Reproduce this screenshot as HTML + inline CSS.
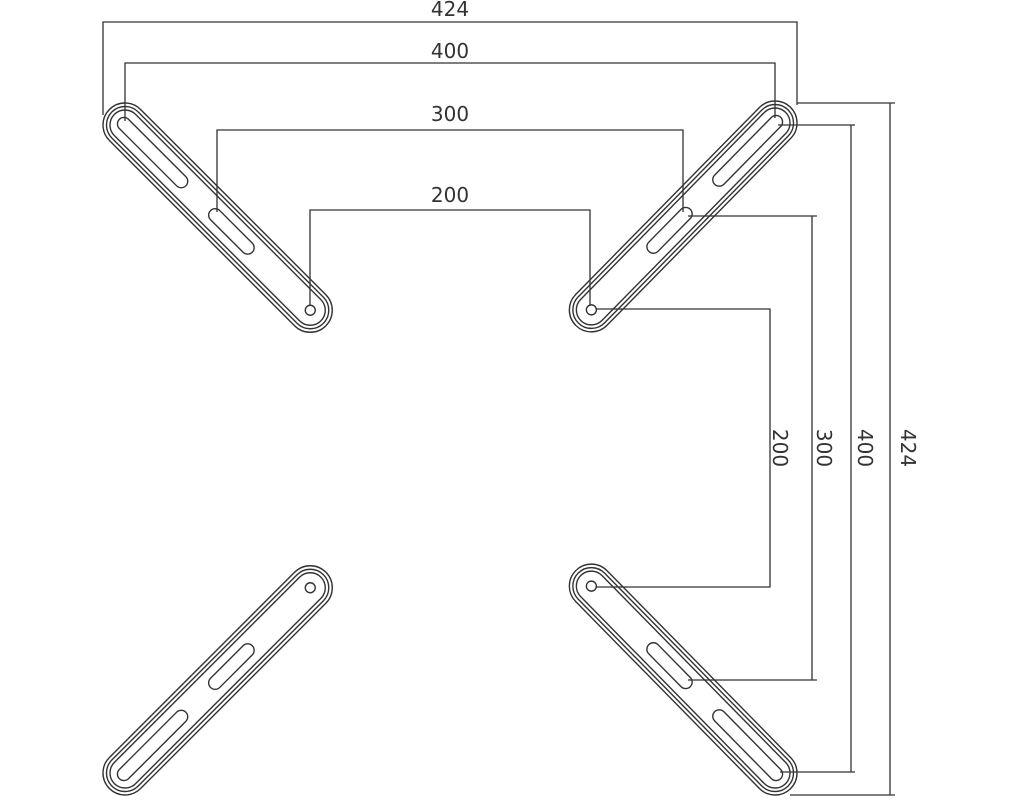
<!DOCTYPE html>
<html><head><meta charset="utf-8"><style>
html,body{margin:0;padding:0;background:#fff;}
svg{display:block}
text{font-family:"DejaVu Sans","Liberation Sans",sans-serif;font-size:20px;fill:#333;}
</style></head><body>
<svg width="1024" height="800" viewBox="0 0 1024 800" xmlns="http://www.w3.org/2000/svg">
<defs>
<g id="arm" fill="none" stroke="#333" stroke-width="1.4">
  <rect x="-22" y="-22" width="306" height="44" rx="22"/>
  <rect x="-18.5" y="-18.5" width="299" height="37" rx="18.5"/>
  <rect x="-15" y="-15" width="292" height="30" rx="15"/>
  <rect x="-8" y="-6.5" width="94" height="13" rx="6.5"/>
  <rect x="121" y="-6.5" width="59" height="13" rx="6.5"/>
  <circle cx="262" cy="0" r="5"/>
</g>
</defs>
<use href="#arm" transform="translate(125,125) rotate(45)"/>
<use href="#arm" transform="translate(775,123) rotate(134.5)"/>
<use href="#arm" transform="translate(125,773) rotate(-45)"/>
<use href="#arm" transform="translate(775,773) rotate(-134.5)"/>
<g fill="none" stroke="#333" stroke-width="1.3">
  <polyline points="103,115 103,22 797,22 797,105"/>
  <polyline points="125,121 125,63 775,63 775,118"/>
  <polyline points="217,212 217,130 683,130 683,212"/>
  <polyline points="310,305 310,210 590,210 590,305"/>
  <polyline points="797,103 895,103"/>
  <polyline points="790,795 895,795"/>
  <line x1="890" y1="103" x2="890" y2="795"/>
  <polyline points="778,125 855,125"/>
  <polyline points="780,772 855,772"/>
  <line x1="851" y1="125" x2="851" y2="772"/>
  <polyline points="688,216 817,216 "/>
  <polyline points="688,680 817,680"/>
  <line x1="812" y1="216" x2="812" y2="680"/>
  <polyline points="596,309 770,309 770,587 596,587"/>
</g>
<text x="450" y="16" text-anchor="middle">424</text>
<text x="450" y="58" text-anchor="middle">400</text>
<text x="450" y="121" text-anchor="middle">300</text>
<text x="450" y="202" text-anchor="middle">200</text>
<text transform="translate(773,448) rotate(90)" text-anchor="middle">200</text>
<text transform="translate(817,448) rotate(90)" text-anchor="middle">300</text>
<text transform="translate(858,448) rotate(90)" text-anchor="middle">400</text>
<text transform="translate(901,448) rotate(90)" text-anchor="middle">424</text>
</svg>
</body></html>
